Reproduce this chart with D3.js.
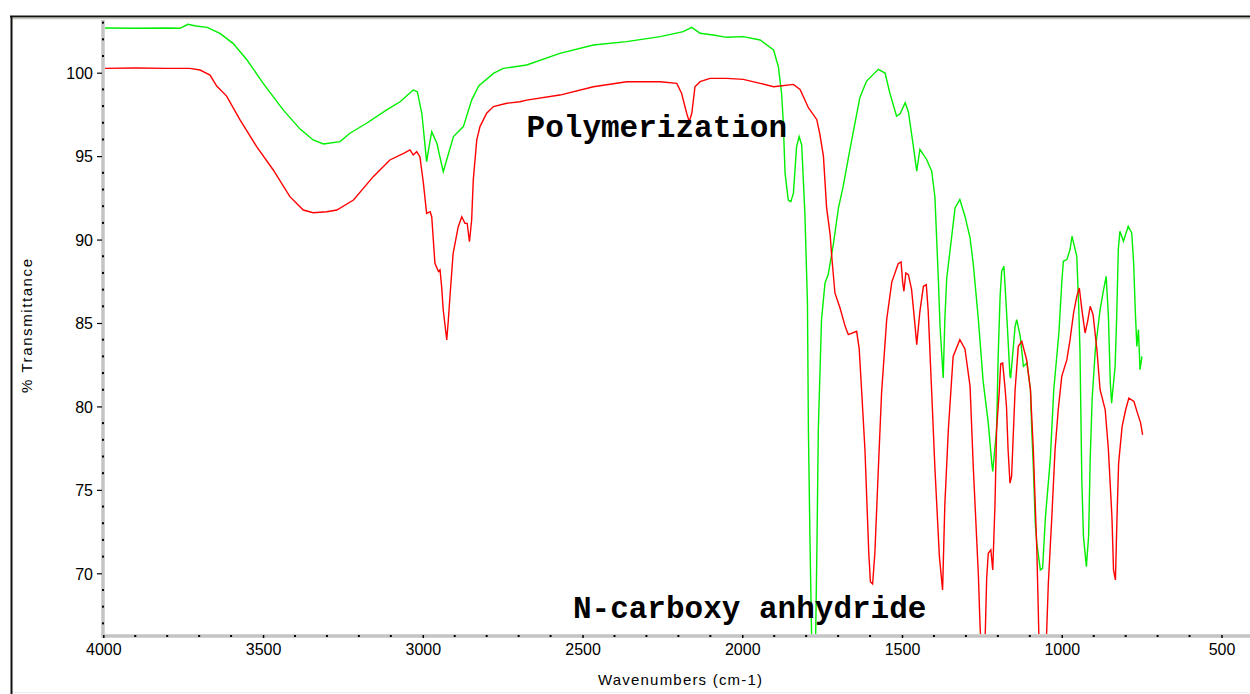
<!DOCTYPE html>
<html>
<head>
<meta charset="utf-8">
<script src="https://cdn.jsdelivr.net/npm/d3@7"></script>
<style>
  body { margin: 0; background: #fff; }
  svg text { font-family: "Liberation Sans", Arial, sans-serif; fill: #000; }
</style>
</head>
<body>
<svg id="chart" width="1250" height="694"></svg>
<script>
// spectrum after polymerization (green), [wavenumber, %T]
var polymerization = [[4000,102.68],[3900,102.66],[3800,102.68],[3760,102.66],[3735,102.9],[3710,102.8],[3675,102.72],[3635,102.36],[3594,101.76],[3550,100.76],[3500,99.38],[3437,97.77],[3384,96.62],[3343,95.97],[3311,95.73],[3259,95.87],[3228,96.37],[3176,96.97],[3113,97.77],[3071,98.26],[3030,98.96],[3017,98.86],[3003,97.57],[2988,94.67],[2980,95.6],[2972,96.47],[2956,95.77],[2936,94.07],[2904,96.17],[2873,96.77],[2847,98.36],[2825,99.2],[2779,99.96],[2748,100.26],[2675,100.46],[2571,101.16],[2466,101.66],[2362,101.86],[2257,102.16],[2185,102.46],[2158,102.72],[2132,102.36],[2091,102.26],[2049,102.12],[1997,102.16],[1944,101.96],[1902,101.36],[1887,100.36],[1877,98.77],[1872,97.17],[1866,93.97],[1856,92.37],[1848,92.27],[1840,92.77],[1830,95.57],[1822,96.17],[1814,95.67],[1804,91.57],[1796,86.2],[1793,78.6],[1788,71.9],[1781,64],[1772,64],[1766,72],[1762,78.6],[1752,85.2],[1741,87.4],[1731,87.9],[1715,89.7],[1699,91.9],[1684,93.2],[1663,95.4],[1632,98.5],[1611,99.5],[1574,100.2],[1553,99.98],[1538,98.77],[1517,97.4],[1506,97.54],[1490,98.2],[1480,97.65],[1465,95.66],[1454,94.1],[1444,95.4],[1423,94.8],[1407,94.1],[1397,92.55],[1386,87.5],[1381,84.8],[1371,81.7],[1366,85.2],[1360,87.7],[1345,90.1],[1334,91.9],[1319,92.4],[1303,91.4],[1287,90.1],[1277,88.55],[1261,85.2],[1246,81.5],[1230,79.0],[1219,76.6],[1216,76.1],[1204,78.6],[1199,83.0],[1193,86.6],[1188,88.1],[1181,88.4],[1172,85.4],[1162,81.8],[1160,81.7],[1146,84.8],[1141,85.2],[1130,84.2],[1120,82.4],[1109,82.6],[1098,81.0],[1094,78.6],[1089,76.4],[1083,73.0],[1078,71.8],[1067,70.2],[1060,70.3],[1051,73.4],[1036,76.8],[1025,81.0],[1009,84.4],[1000,87.4],[995,88.7],[984,88.8],[974,89.4],[968,90.2],[963,89.8],[953,89.0],[947,86.0],[943,83.4],[937,75.4],[932,72.2],[923,70.4],[916,72.2],[911,76.8],[905,80.4],[895,83.4],[880,85.8],[869,87.0],[861,87.8],[854,85.4],[848,81.4],[844,80.2],[833,82.4],[828,85.4],[823,89.4],[818,90.5],[807,89.9],[792,90.8],[781,90.4],[775,88.6],[770,85.8],[765,83.6],[760,84.6],[755,82.2],[749,83.0]];

// N-carboxy anhydride monomer (red)
var ncaSpectrum = [[4000,100.26],[3900,100.28],[3800,100.26],[3729,100.26],[3697,100.16],[3666,99.86],[3645,99.2],[3614,98.6],[3572,97.17],[3520,95.57],[3468,94.17],[3416,92.57],[3374,91.77],[3343,91.61],[3301,91.67],[3269,91.77],[3217,92.37],[3155,93.77],[3103,94.77],[3060,95.17],[3040,95.37],[3030,95.07],[3019,95.27],[3009,94.97],[2998,93.37],[2988,91.57],[2977,91.67],[2972,91.37],[2962,88.58],[2951,88.08],[2946,88.18],[2941,87.18],[2936,85.78],[2925,83.98],[2920,85.18],[2915,86.58],[2905,89.18],[2889,90.77],[2878,91.37],[2868,90.97],[2861,90.97],[2854,89.87],[2847,91.17],[2842,93.57],[2831,95.97],[2821,96.77],[2800,97.57],[2779,97.97],[2737,98.17],[2696,98.26],[2675,98.36],[2571,98.66],[2466,99.16],[2362,99.46],[2257,99.46],[2205,99.36],[2190,98.77],[2174,97.57],[2166,97.07],[2158,97.57],[2148,99.16],[2132,99.46],[2101,99.66],[2049,99.66],[1997,99.6],[1944,99.36],[1902,99.16],[1882,99.2],[1840,99.3],[1819,98.99],[1793,97.9],[1767,97.2],[1757,96.3],[1746,95.0],[1736,91.9],[1725,90.3],[1720,89.0],[1710,86.8],[1694,85.9],[1678,84.8],[1668,84.3],[1642,84.5],[1634,83.45],[1626,80.8],[1616,77.4],[1604,71.2],[1599,69.5],[1592,69.36],[1585,71.2],[1574,76.3],[1564,80.8],[1548,85.2],[1532,87.45],[1512,88.55],[1503,88.66],[1498,87.45],[1494,86.9],[1488,88.0],[1480,87.9],[1470,87.0],[1459,84.8],[1454,83.7],[1444,85.7],[1433,87.2],[1424,87.3],[1418,85.7],[1407,80.8],[1397,76.3],[1383,71.0],[1373,69.0],[1366,74.1],[1355,78.6],[1340,83.0],[1319,84.0],[1303,83.45],[1287,81.2],[1277,76.4],[1261,69.9],[1256,67.0],[1250,64.5],[1242,64.5],[1235,69.7],[1230,71.2],[1222,71.4],[1216,70.2],[1209,74.1],[1204,78.6],[1196,80.8],[1191,82.56],[1185,82.6],[1178,81.2],[1173,80.0],[1168,77.4],[1162,75.4],[1157,75.8],[1152,78.2],[1146,81.0],[1136,83.6],[1125,83.9],[1110,82.8],[1098,81.0],[1089,77.4],[1078,71.4],[1070,65],[1060,64],[1050,65],[1042,69.4],[1031,73.4],[1021,77.4],[1011,79.8],[1000,81.8],[984,82.8],[974,84.0],[963,85.6],[953,86.6],[945,87.1],[937,85.8],[927,84.4],[919,85.1],[911,86.0],[902,85.5],[890,83.4],[880,81.0],[864,79.8],[854,77.4],[843,73.4],[838,70.2],[832,69.6],[827,73.4],[822,76.6],[811,78.8],[800,79.8],[790,80.5],[774,80.3],[763,79.6],[753,79.0],[747,78.3]];

var xMajor = [4000, 3500, 3000, 2500, 2000, 1500, 1000, 500];
var yMajor = [70, 75, 80, 85, 90, 95, 100];
var annotations = [["Polymerization", 2675, 96.15], ["N-carboxy anhydride", 2530, 67.33]];

var svg = d3.select("#chart");

// plot box
var plotLeft = 103, plotRight = 1250, plotTop = 20, plotBottom = 636;

var x = d3.scaleLinear().domain([4000, 500]).range([103.3, 1221.5]);
var y = d3.scaleLinear().domain([70, 100]).range([573.3, 72.7]);

// window frame
svg.append("rect").attr("x", 0).attr("y", 0).attr("width", 1250).attr("height", 694).attr("fill", "#fff");
svg.append("line").attr("x1", 10).attr("x2", 1250).attr("y1", 16.5).attr("y2", 16.5)
  .attr("stroke", "#111").attr("stroke-width", 2);
svg.append("line").attr("x1", 12).attr("x2", 1250).attr("y1", 18.5).attr("y2", 18.5)
  .attr("stroke", "#c8c6b8").attr("stroke-width", 1.5);
svg.append("line").attr("x1", 11.5).attr("x2", 11.5).attr("y1", 16).attr("y2", 694)
  .attr("stroke", "#111").attr("stroke-width", 2);
svg.append("line").attr("x1", 13).attr("x2", 1250).attr("y1", 692.5).attr("y2", 692.5)
  .attr("stroke", "#eeeeee").attr("stroke-width", 1);

// axis bars (grey)
svg.append("line").attr("x1", plotLeft).attr("x2", plotLeft).attr("y1", plotTop).attr("y2", plotBottom + 1.5)
  .attr("stroke", "#c4c4c4").attr("stroke-width", 3.5);
svg.append("line").attr("x1", plotLeft - 1.5).attr("x2", plotRight).attr("y1", plotBottom).attr("y2", plotBottom)
  .attr("stroke", "#c4c4c4").attr("stroke-width", 3.5);

// y axis
var yAxis = d3.axisLeft(y).tickValues(yMajor).tickSize(5).tickPadding(4);
var gy = svg.append("g").attr("transform", "translate(" + (plotLeft - 1) + ",0)").call(yAxis);
gy.select(".domain").remove();
gy.selectAll(".tick line").attr("stroke", "#000").attr("stroke-width", 1.2);
gy.selectAll(".tick text").style("font-size", "16px").attr("dy", "0.36em");

var yMinor = d3.range(67, 104).filter(function(v) { return v % 5 != 0; });
svg.append("g").selectAll("rect").data(yMinor).enter().append("rect")
  .attr("x", plotLeft - 1).attr("y", function(d) { return y(d) - 1; })
  .attr("width", 2).attr("height", 2).attr("fill", "#000");

// x axis
var xAxis = d3.axisBottom(x).tickValues(xMajor).tickFormat(d3.format("d")).tickSize(3).tickPadding(6);
var gx = svg.append("g").attr("transform", "translate(0," + (plotBottom - 1) + ")").call(xAxis);
gx.select(".domain").remove();
gx.selectAll(".tick line").attr("stroke", "#000").attr("stroke-width", 1.5);
gx.selectAll(".tick text").style("font-size", "16px");

var xMinor = d3.range(400, 4000, 100).filter(function(v) { return v % 500 != 0; });
svg.append("g").selectAll("rect").data(xMinor).enter().append("rect")
  .attr("x", function(d) { return x(d) - 1; }).attr("y", plotBottom - 1)
  .attr("width", 2).attr("height", 2).attr("fill", "#000");

// axis titles
svg.append("text").attr("x", 680).attr("y", 685).attr("text-anchor", "middle")
  .style("font-size", "15px").attr("textLength", 164).text("Wavenumbers (cm-1)");
svg.append("text").attr("transform", "translate(32,326) rotate(-90)").attr("text-anchor", "middle")
  .style("font-size", "15px").attr("textLength", 134).text("% Transmittance");

// spectra
svg.append("clipPath").attr("id", "plotclip").append("rect")
  .attr("x", plotLeft + 2).attr("y", plotTop).attr("width", plotRight - plotLeft).attr("height", plotBottom - plotTop - 2);

var line = d3.line()
  .x(function(d) { return x(d[0]); })
  .y(function(d) { return y(d[1]); });

var plot = svg.append("g").attr("clip-path", "url(#plotclip)");
plot.append("path").datum(polymerization).attr("d", line)
  .attr("fill", "none").attr("stroke", "#00ee00").attr("stroke-width", 1.4);
plot.append("path").datum(ncaSpectrum).attr("d", line)
  .attr("fill", "none").attr("stroke", "#ff0000").attr("stroke-width", 1.4);

// labels on the curves
svg.append("g").selectAll("text").data(annotations).enter().append("text")
  .attr("x", function(d) { return x(d[1]); })
  .attr("y", function(d) { return y(d[2]); })
  .style("font-family", "'Liberation Mono', 'Courier New', monospace")
  .style("font-weight", "bold").style("font-size", "31px")
  .text(function(d) { return d[0]; });
</script>
</body>
</html>
